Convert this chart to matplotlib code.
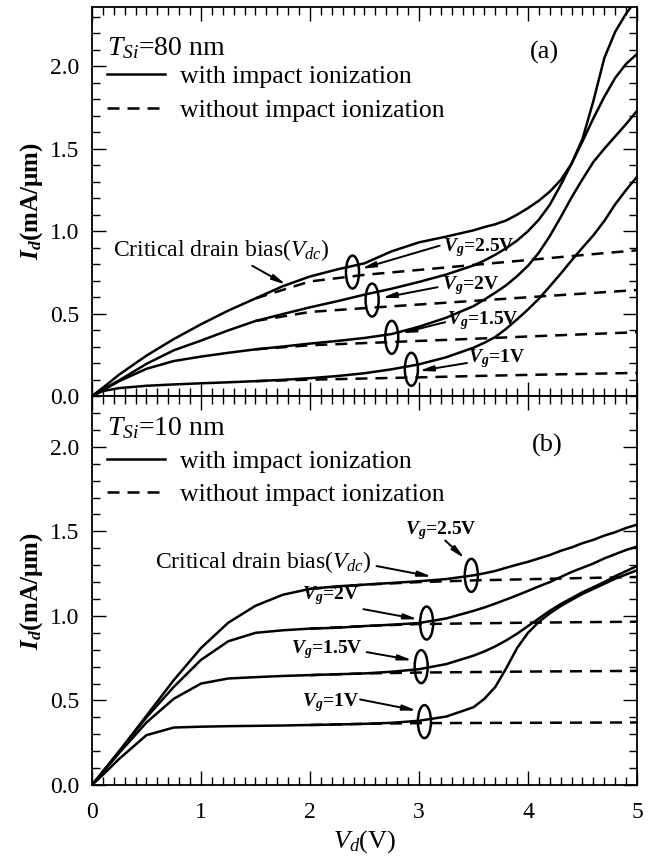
import matplotlib
matplotlib.use("Agg")
import matplotlib.pyplot as plt
from matplotlib.patches import Ellipse
from matplotlib.ticker import MultipleLocator, FormatStrFormatter

plt.rcParams['font.family'] = ['Liberation Serif', 'DejaVu Serif']
plt.rcParams['mathtext.fontset'] = 'custom'
plt.rcParams['mathtext.rm'] = 'Liberation Serif'
plt.rcParams['mathtext.it'] = 'Liberation Serif:italic'
plt.rcParams['mathtext.bf'] = 'Liberation Serif:bold:italic'

# ---------------- data ----------------
vd = [0, 0.1, 0.25, 0.5, 0.75, 1.0, 1.25, 1.5, 1.75, 2.0, 2.25, 2.5, 2.75, 3.0, 3.25,
      3.5, 3.6, 3.7, 3.8, 3.9, 4.0, 4.1, 4.2, 4.3, 4.4, 4.5, 4.6, 4.7, 4.8, 4.9, 5.0]
vg_labels = ['2.5V', '2V', '1.5V', '1V']

# (a) T_Si = 80 nm, with impact ionization
a_vg25 = [0, 0.05, 0.13, 0.245, 0.345, 0.435, 0.518, 0.592, 0.666, 0.725, 0.768, 0.805, 0.878, 0.932, 0.967,
          1.005, 1.025, 1.042, 1.065, 1.10, 1.14, 1.185, 1.24, 1.31, 1.41, 1.56, 1.79, 2.05, 2.21, 2.32, 2.41]
a_vg20 = [0, 0.04, 0.095, 0.195, 0.277, 0.336, 0.398, 0.455, 0.497, 0.538, 0.575, 0.615, 0.651, 0.692, 0.737,
          0.792, 0.822, 0.857, 0.897, 0.943, 1.0, 1.07, 1.16, 1.28, 1.41, 1.545, 1.685, 1.815, 1.93, 2.015, 2.075]
a_vg15 = [0, 0.035, 0.09, 0.165, 0.212, 0.239, 0.262, 0.283, 0.30, 0.318, 0.334, 0.352, 0.376, 0.42, 0.475,
          0.545, 0.585, 0.627, 0.672, 0.727, 0.79, 0.87, 0.97, 1.085, 1.205, 1.315, 1.42, 1.50, 1.575, 1.65, 1.73]
a_vg10 = [0, 0.03, 0.048, 0.062, 0.07, 0.077, 0.083, 0.09, 0.098, 0.108, 0.121, 0.138, 0.162, 0.192, 0.235,
          0.293, 0.323, 0.358, 0.408, 0.465, 0.525, 0.59, 0.665, 0.742, 0.823, 0.90, 0.975, 1.062, 1.163, 1.25, 1.33]
# (a) without impact ionization
vd_a_dash = [1.5, 2.0, 2.5, 3.0, 3.5, 4.0, 4.5, 5.0]
a_vg25_no = [0.592, 0.695, 0.735, 0.765, 0.795, 0.825, 0.855, 0.884]
a_vg20_no = [0.455, 0.51, 0.533, 0.555, 0.577, 0.599, 0.621, 0.643]
a_vg15_no = [0.283, 0.308, 0.321, 0.334, 0.347, 0.361, 0.374, 0.387]
a_vg10_no = [0.09, 0.099, 0.106, 0.113, 0.121, 0.128, 0.134, 0.14]

# (b) T_Si = 10 nm, with impact ionization
b_vg25 = [0, 0.08, 0.2, 0.41, 0.62, 0.81, 0.96, 1.06, 1.125, 1.16, 1.175, 1.185, 1.195, 1.205, 1.218,
          1.24, 1.252, 1.266, 1.285, 1.303, 1.32, 1.34, 1.36, 1.385, 1.405, 1.43, 1.45, 1.475, 1.495, 1.52, 1.54]
b_vg20 = [0, 0.08, 0.2, 0.40, 0.58, 0.74, 0.85, 0.90, 0.915, 0.925, 0.93, 0.94, 0.948, 0.958, 0.985,
          1.03, 1.05, 1.073, 1.097, 1.122, 1.148, 1.175, 1.20, 1.23, 1.26, 1.285, 1.31, 1.34, 1.365, 1.39, 1.41]
b_vg15 = [0, 0.075, 0.19, 0.37, 0.51, 0.60, 0.63, 0.638, 0.645, 0.65, 0.655, 0.66, 0.67, 0.685, 0.715,
          0.765, 0.79, 0.82, 0.855, 0.895, 0.94, 0.985, 1.03, 1.07, 1.105, 1.14, 1.17, 1.20, 1.235, 1.265, 1.295]
b_vg10 = [0, 0.06, 0.155, 0.295, 0.34, 0.345, 0.348, 0.35, 0.352, 0.355, 0.358, 0.362, 0.368, 0.38, 0.405,
          0.46, 0.51, 0.58, 0.69, 0.81, 0.90, 0.965, 1.015, 1.058, 1.095, 1.13, 1.16, 1.19, 1.22, 1.245, 1.27]
# (b) without impact ionization
vd_b_dash = [2.0, 2.5, 3.0, 3.5, 4.0, 4.5, 5.0]
b_vg25_no = [1.16, 1.185, 1.20, 1.21, 1.217, 1.224, 1.23]
b_vg20_no = [0.925, 0.94, 0.952, 0.956, 0.96, 0.963, 0.966]
b_vg15_no = [0.65, 0.66, 0.665, 0.668, 0.671, 0.673, 0.675]
b_vg10_no = [0.355, 0.362, 0.366, 0.367, 0.368, 0.369, 0.37]

# critical drain bias points (Vdc, Id)
a_vdc = [2.39, 2.57, 2.75, 2.93]
a_idc = [0.752, 0.582, 0.356, 0.162]
b_vdc = [3.48, 3.07, 3.02, 3.05]
b_idc = [1.24, 0.958, 0.70, 0.375]

# ---------------- figure ----------------
fig = plt.figure(figsize=(6.5, 8.56), dpi=100)
axA = fig.add_axes([0.1415, 0.5374, 0.8385, 0.4544])
axB = fig.add_axes([0.1415, 0.0829, 0.8385, 0.4544])

LW = 1.8
DASH = (4.8, 3.2)

def style(ax, ytop):
    ax.set_xlim(0, 5)
    ax.set_ylim(0, ytop)
    ax.xaxis.set_major_locator(MultipleLocator(1))
    ax.xaxis.set_minor_locator(MultipleLocator(0.1))
    ax.yaxis.set_major_locator(MultipleLocator(0.5))
    ax.yaxis.set_minor_locator(MultipleLocator(0.1))
    ax.yaxis.set_major_formatter(FormatStrFormatter('%.1f'))
    ax.tick_params(which='both', direction='in', top=True, right=True, width=1.0)
    ax.tick_params(which='major', length=10, labelsize=17)
    ax.tick_params(axis='x', which='major', pad=12)
    ax.tick_params(axis='y', which='major', pad=9)
    ax.tick_params(which='minor', length=5.5)
    for s in ax.spines.values():
        s.set_linewidth(1.3)

def draw_panel(ax, solids, dash_x, dashes, vdc, idc, eh):
    hs = hd = None
    for y in solids:
        l, = ax.plot(vd, y, color='k', lw=LW, solid_joinstyle='round')
        hs = hs or l
    for y in dashes:
        l, = ax.plot(dash_x, y, color='k', lw=LW, dashes=DASH)
        hd = hd or l
    for x0, y0 in zip(vdc, idc):
        ax.add_patch(Ellipse((x0, y0), 0.12, eh, fill=False, lw=LW, ec='k', zorder=5))
    return hs, hd

style(axA, 2.36)
style(axB, 2.30)

hs, hd = draw_panel(axA, [a_vg25, a_vg20, a_vg15, a_vg10], vd_a_dash,
                    [a_vg25_no, a_vg20_no, a_vg15_no, a_vg10_no], a_vdc, a_idc, 0.2)
hsb, hdb = draw_panel(axB, [b_vg25, b_vg20, b_vg15, b_vg10], vd_b_dash,
                      [b_vg25_no, b_vg20_no, b_vg15_no, b_vg10_no], b_vdc, b_idc, 0.195)

axA.tick_params(axis='x', labelbottom=False)

for ax, title, hh, ty, ly in [(axA, r'$T_{Si}$=80 nm', (hs, hd), 0.877, 0.850),
                              (axB, r'$T_{Si}$=10 nm', (hsb, hdb), 0.900, 0.8625)]:
    ax.text(0.0275, ty, title, transform=ax.transAxes, fontsize=20, ha='left', va='baseline')
    ax.legend(hh, ['with impact ionization', 'without impact ionization'],
              loc='upper left', bbox_to_anchor=(0.0275, ly),
              frameon=False, fontsize=18.5,
              handlelength=2.26, handletextpad=0.58, labelspacing=0.41,
              borderaxespad=0.0, borderpad=0.0)

axA.text(0.831, 0.882, '(a)', transform=axA.transAxes, fontsize=19, ha='center', va='center')
axB.text(0.835, 0.874, '(b)', transform=axB.transAxes, fontsize=19, ha='center', va='center')

AP = dict(arrowstyle='-|>,head_length=0.8,head_width=0.16', lw=1.4, color='k',
          shrinkA=0, shrinkB=0)

# panel (a) annotations
axA.text(0.19, 0.885, r'Critical drain bias($V_{dc}$)', fontsize=17, ha='left', va='center')
axA.annotate('', xy=(1.78, 0.675), xytext=(1.47, 0.79), arrowprops=AP)
a_lab_pos = [(3.22, 0.90), (3.21, 0.672), (3.26, 0.46), (3.45, 0.23)]
a_tails = [(3.19, 0.912), (3.17, 0.66), (3.24, 0.448), (3.44, 0.20)]
a_heads = [(2.47, 0.772), (2.66, 0.595), (2.84, 0.381), (3.0, 0.152)]
for lab, p, t, h in zip(vg_labels, a_lab_pos, a_tails, a_heads):
    axA.text(p[0], p[1], r'$\mathbf{V}_\mathbf{g}$=' + lab, fontsize=14, fontweight='bold',
             ha='left', va='center')
    axA.annotate('', xy=h, xytext=t, arrowprops=AP)

# panel (b) annotations
axB.text(0.58, 1.32, r'Critical drain bias($V_{dc}$)', fontsize=17, ha='left', va='center')
axB.annotate('', xy=(3.12, 1.232), xytext=(2.61, 1.295), arrowprops=AP)
b_lab_pos = [(2.87, 1.505), (1.93, 1.12), (1.83, 0.80), (1.93, 0.485)]
b_tails = [(3.24, 1.446), (2.49, 1.04), (2.52, 0.786), (2.46, 0.506)]
b_heads = [(3.42, 1.34), (2.99, 0.98), (2.94, 0.738), (2.98, 0.44)]
for lab, p, t, h in zip(vg_labels, b_lab_pos, b_tails, b_heads):
    axB.text(p[0], p[1], r'$\mathbf{V}_\mathbf{g}$=' + lab, fontsize=14, fontweight='bold',
             ha='left', va='center')
    axB.annotate('', xy=h, xytext=t, arrowprops=AP)

for ax in (axA, axB):
    ax.set_ylabel(r'$\mathbf{I}_\mathbf{d}$(mA/μm)', fontsize=18, fontweight='bold', labelpad=4)
axB.set_xlabel(r'$V_d$(V)', fontsize=19, labelpad=4)

fig.savefig('out.png', dpi=100)
